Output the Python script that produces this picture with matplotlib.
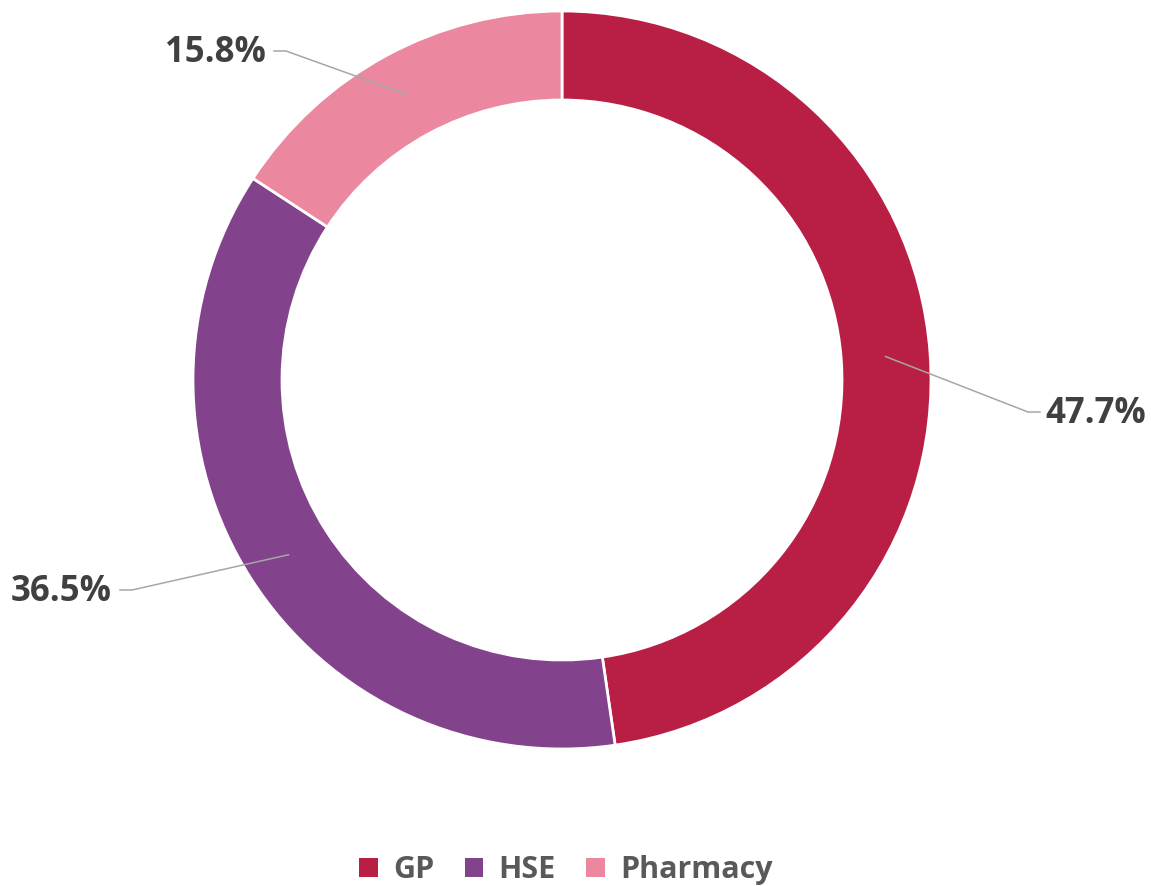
import matplotlib.pyplot as plt
import numpy as np

# chart data
categories = ["GP", "HSE", "Pharmacy"]
shares = [47.7, 36.5, 15.8]
colors = ["#B91F45", "#83428C", "#EB889F"]

# label placement (pixel space, y measured from the top)
label_pos = [(1045, 414), (112, 592), (266, 53)]
label_align = ["left", "right", "right"]

W, H = 1151, 886
cx, cy = 562, H - 380
r_out, ring = 369, 89

fig = plt.figure(figsize=(W / 100, H / 100), dpi=100)
ax = fig.add_axes([0, 0, 1, 1])
ax.set_xlim(0, W)
ax.set_ylim(0, H)
ax.axis("off")

wedges, _ = ax.pie(shares, colors=colors, startangle=90, counterclock=False,
                   center=(cx, cy), radius=r_out,
                   wedgeprops=dict(width=ring, edgecolor="white", linewidth=2))
ax.set_xlim(0, W)
ax.set_ylim(0, H)
ax.set_aspect("equal")

font = "Open Sans"
r_mid = r_out - ring / 2
for w, val, (lx, ly), ha in zip(wedges, shares, label_pos, label_align):
    ang = np.deg2rad((w.theta1 + w.theta2) / 2)
    sx, sy = cx + r_mid * np.cos(ang), cy + r_mid * np.sin(ang)
    ly = H - ly
    if ha == "left":
        ex = lx - 17
        hx = lx - 5
    else:
        ex = lx + 20
        hx = lx + 8
    ax.plot([sx, ex, hx], [sy, ly + 2, ly + 2], color="#A6A6A6", lw=1.1, zorder=3)
    ax.text(lx, ly, f"{val:.1f}%", ha=ha, va="center", fontsize=25,
            fontweight="bold", family=font, color="#404040")

leg = ax.legend(wedges, categories, loc="center",
                bbox_to_anchor=(566 / W, 16 / H), bbox_transform=fig.transFigure,
                ncol=3, frameon=False, handlelength=0.6, handleheight=0.6,
                handletextpad=0.5, columnspacing=1.0,
                prop=dict(family=font, weight="bold", size=22))
for t in leg.get_texts():
    t.set_color("#595959")
for p in leg.get_patches():
    p.set_linewidth(0)

fig.savefig("out.png", dpi=100, facecolor="white")
